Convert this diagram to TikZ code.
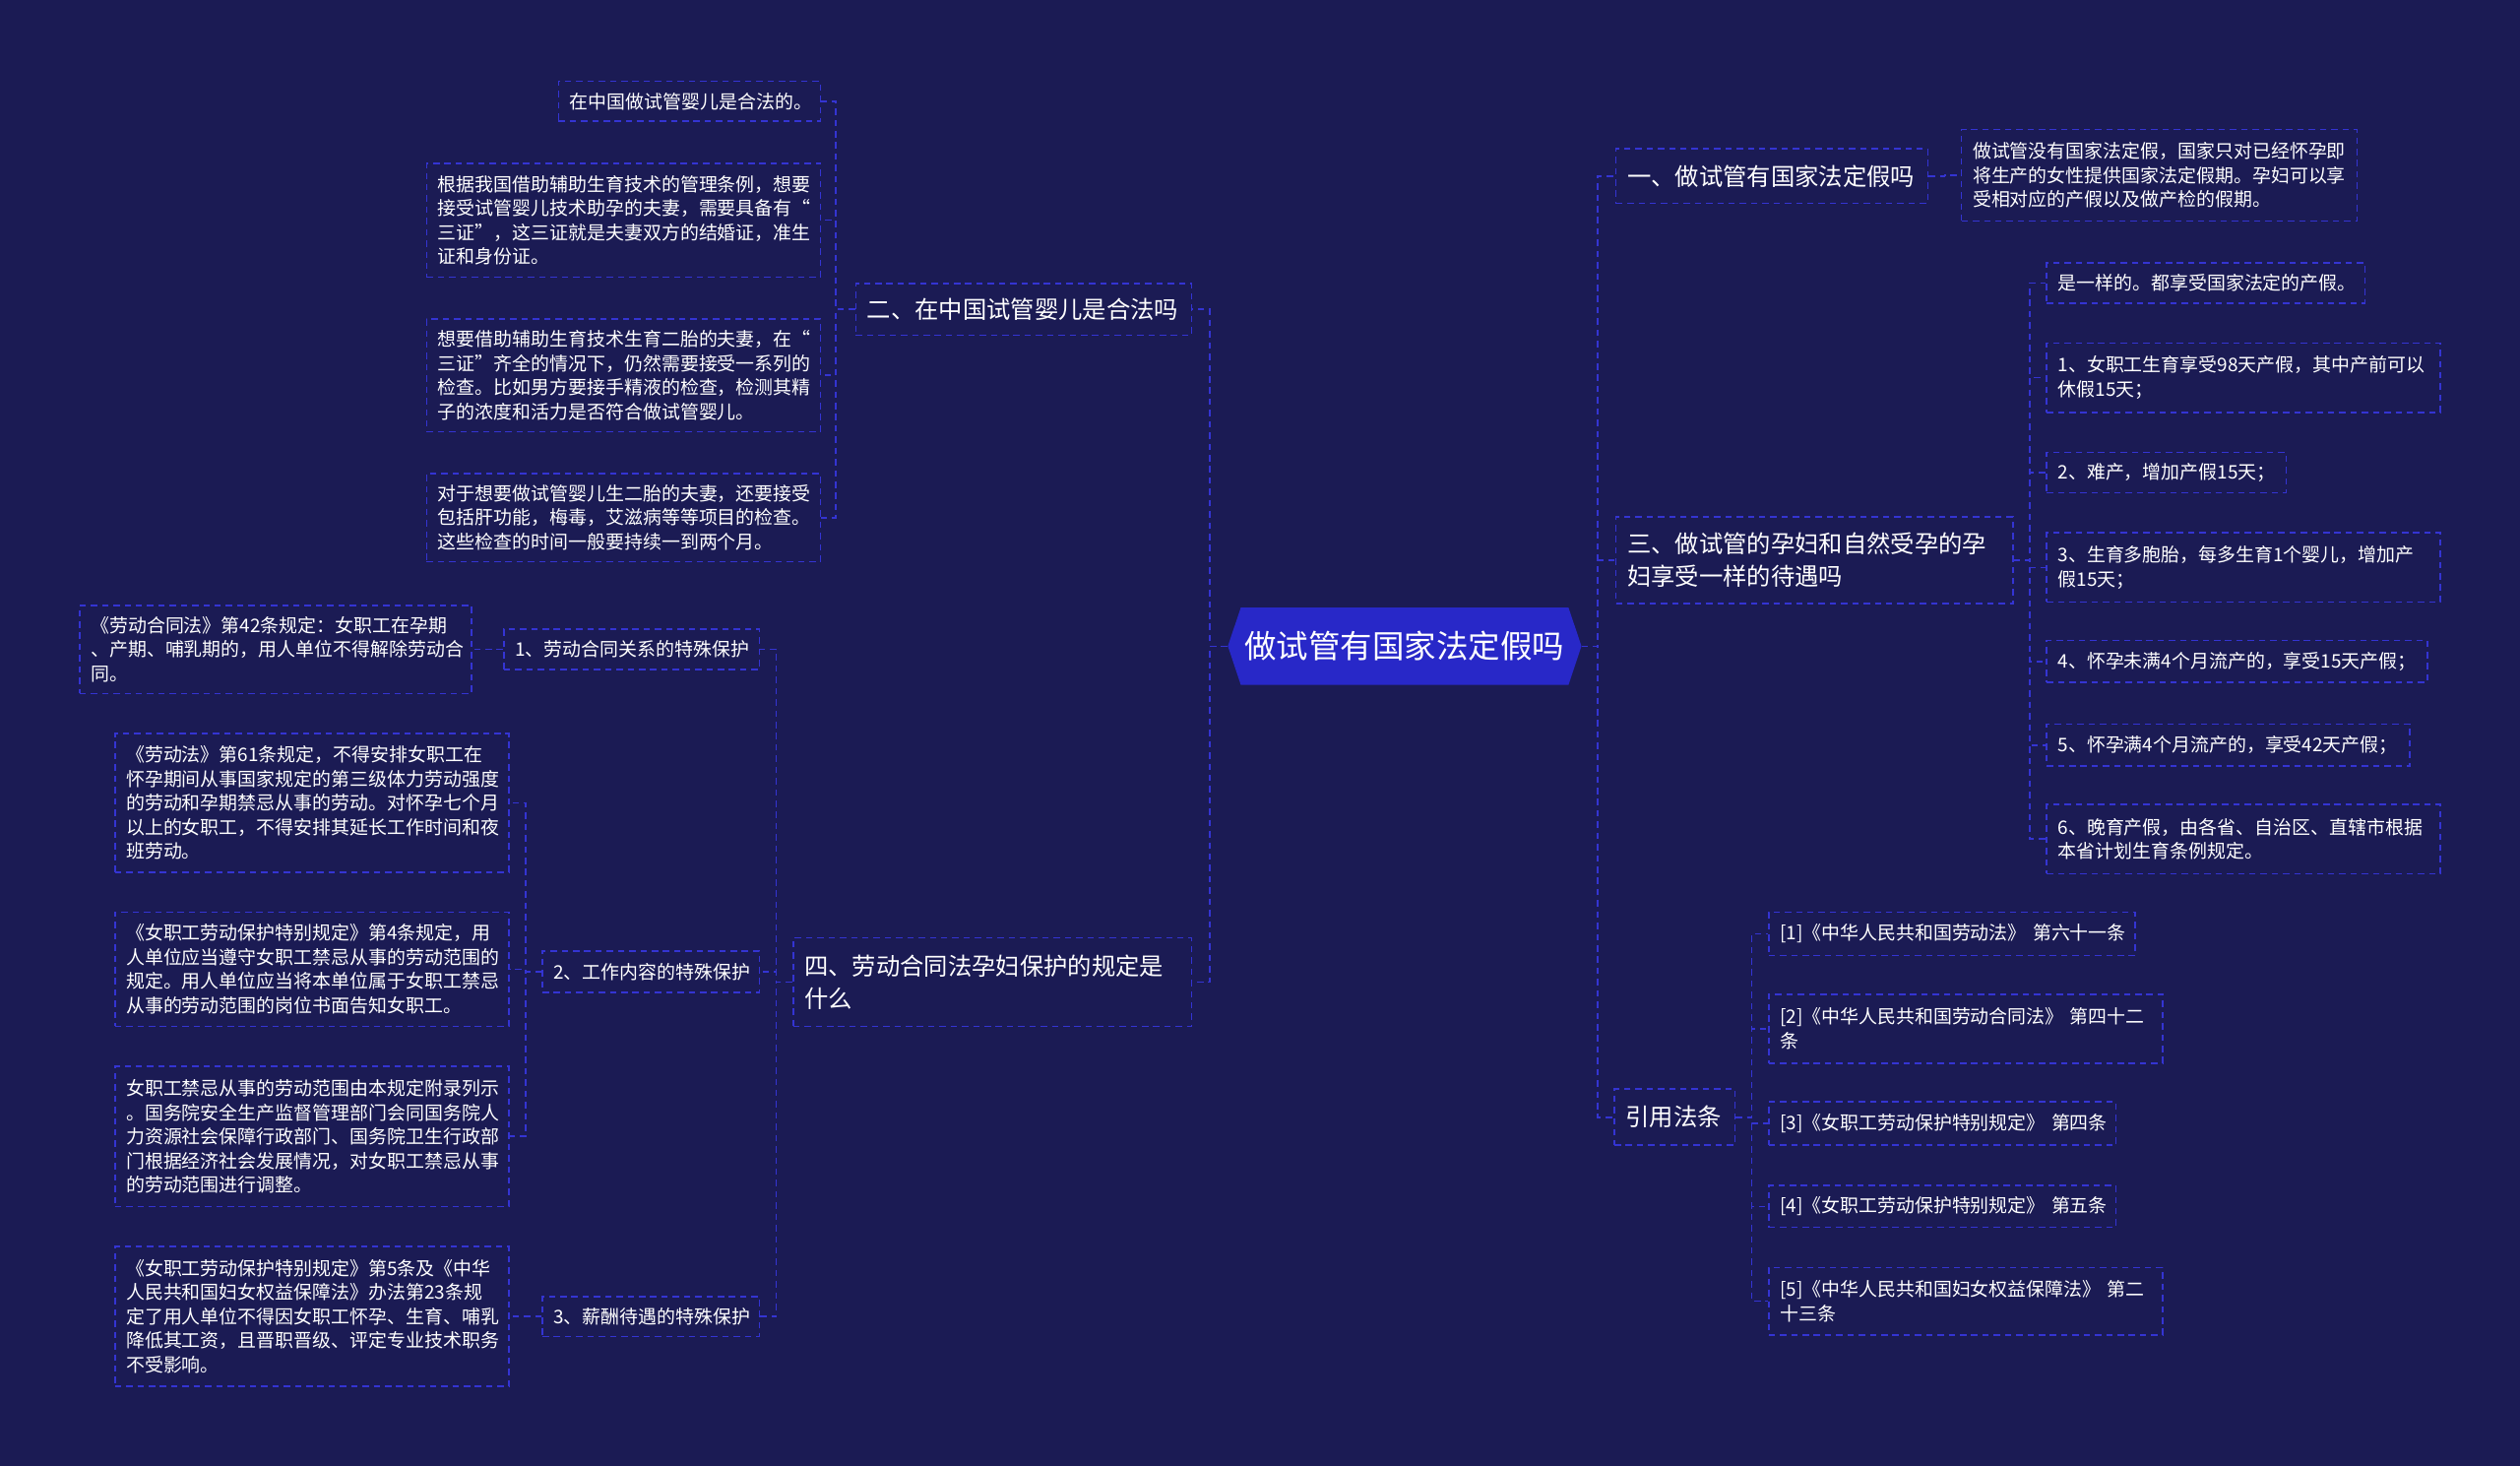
\documentclass[tikz,border=0pt]{standalone}
\usepackage{fontspec}
\setmainfont{Noto Sans CJK SC}
\usetikzlibrary{shapes.symbols}

\definecolor{bgnavy}{RGB}{27,27,84}
\definecolor{lineblue}{RGB}{52,52,210}
\definecolor{rootblue}{RGB}{40,40,200}

\tikzset{
  link/.style={draw=lineblue, line width=1pt, dash pattern=on 4pt off 3pt},
  topic/.style={draw=lineblue, line width=1pt, dash pattern=on 4pt off 3pt,
    text=white, align=left, inner xsep=7pt, inner ysep=0pt,
    font=\fontsize{14.9}{20}\selectfont},
  leaf/.style={topic, font=\fontsize{11.6}{15}\selectfont},
  root/.style={signal, signal to=west and east, signal pointer angle=143,
    fill=rootblue, text=white, font=\fontsize{19.9}{24}\selectfont,
    minimum width=220pt, minimum height=48pt, inner sep=0pt}
}

\begin{document}
\begin{tikzpicture}[x=1pt, y=-1pt]
  % Background
  \fill[bgnavy] (0,0) rectangle (1568,912);
  \useasboundingbox (0,0) rectangle (1568,912);

  % Root
  \node[root] (root) at (874,402) {做试管有国家法定假吗};

  % Right topics
  \node[topic, text width=180pt, minimum height=34pt, anchor=north west] (r1) at (1005,92) {一、做试管有国家法定假吗};
  \node[topic, text width=233pt, minimum height=54pt, anchor=north west] (r3) at (1005,321) {三、做试管的孕妇和自然受孕的孕\\妇享受一样的待遇吗};
  \node[topic, text width=61pt, minimum height=35pt, anchor=north west] (r4) at (1004,677) {引用法条};

  % Right leaves
  \node[leaf, text width=232pt, minimum height=57pt, anchor=north west] (r1a) at (1220,80) {做试管没有国家法定假，国家只对已经怀孕即\\将生产的女性提供国家法定假期。孕妇可以享\\受相对应的产假以及做产检的假期。};
  \node[leaf, text width=184pt, minimum height=25pt, anchor=north west] (r3a) at (1273,163) {是一样的。都享受国家法定的产假。};
  \node[leaf, text width=231pt, minimum height=43pt, anchor=north west] (r3b) at (1273,213) {1、女职工生育享受98天产假，其中产前可以\\休假15天；};
  \node[leaf, text width=135pt, minimum height=25pt, anchor=north west] (r3c) at (1273,281) {2、难产，增加产假15天；};
  \node[leaf, text width=231pt, minimum height=43pt, anchor=north west] (r3d) at (1273,331) {3、生育多胞胎，每多生育1个婴儿，增加产\\假15天；};
  \node[leaf, text width=223pt, minimum height=26pt, anchor=north west] (r3e) at (1273,398) {4、怀孕未满4个月流产的，享受15天产假；};
  \node[leaf, text width=212pt, minimum height=26pt, anchor=north west] (r3f) at (1273,450) {5、怀孕满4个月流产的，享受42天产假；};
  \node[leaf, text width=231pt, minimum height=43pt, anchor=north west] (r3g) at (1273,500) {6、晚育产假，由各省、自治区、直辖市根据\\本省计划生育条例规定。};
  \node[leaf, text width=214pt, minimum height=27pt, anchor=north west] (r4a) at (1100,567) {[1]《中华人民共和国劳动法》~第六十一条};
  \node[leaf, text width=231pt, minimum height=43pt, anchor=north west] (r4b) at (1100,618) {[2]《中华人民共和国劳动合同法》~第四十二\\条};
  \node[leaf, text width=202pt, minimum height=27pt, anchor=north west] (r4c) at (1100,685) {[3]《女职工劳动保护特别规定》~第四条};
  \node[leaf, text width=202pt, minimum height=26pt, anchor=north west] (r4d) at (1100,737) {[4]《女职工劳动保护特别规定》~第五条};
  \node[leaf, text width=231pt, minimum height=42pt, anchor=north west] (r4e) at (1100,788) {[5]《中华人民共和国妇女权益保障法》~第二\\十三条};

  % Left topics
  \node[topic, text width=195pt, minimum height=32pt, anchor=north east] (l2) at (742,176) {二、在中国试管婴儿是合法吗};
  \node[topic, text width=234pt, minimum height=55pt, anchor=north east] (l4) at (742,583) {四、劳动合同法孕妇保护的规定是\\什么};

  % Left leaves
  \node[leaf, text width=149pt, minimum height=25pt, anchor=north east] (l2a) at (511,50) {在中国做试管婴儿是合法的。};
  \node[leaf, text width=231pt, minimum height=71pt, anchor=north east] (l2b) at (511,101) {根据我国借助辅助生育技术的管理条例，想要\\接受试管婴儿技术助孕的夫妻，需要具备有“\\三证”，这三证就是夫妻双方的结婚证，准生\\证和身份证。};
  \node[leaf, text width=231pt, minimum height=70pt, anchor=north east] (l2c) at (511,198) {想要借助辅助生育技术生育二胎的夫妻，在“\\三证”齐全的情况下，仍然需要接受一系列的\\检查。比如男方要接手精液的检查，检测其精\\子的浓度和活力是否符合做试管婴儿。};
  \node[leaf, text width=231pt, minimum height=55pt, anchor=north east] (l2d) at (511,294) {对于想要做试管婴儿生二胎的夫妻，还要接受\\包括肝功能，梅毒，艾滋病等等项目的检查。\\这些检查的时间一般要持续一到两个月。};
  \node[leaf, text width=145pt, minimum height=25pt, anchor=north east] (l4a) at (473,391) {1、劳动合同关系的特殊保护};
  \node[leaf, text width=121pt, minimum height=26pt, anchor=north east] (l4b) at (473,591) {2、工作内容的特殊保护};
  \node[leaf, text width=121pt, minimum height=25pt, anchor=north east] (l4c) at (473,806) {3、薪酬待遇的特殊保护};
  \node[leaf, text width=230pt, minimum height=55pt, anchor=north east] (l4a1) at (294,376) {《劳动合同法》第42条规定：女职工在孕期\\、产期、哺乳期的，用人单位不得解除劳动合\\同。};
  \node[leaf, text width=231pt, minimum height=86pt, anchor=north east] (l4b1) at (317,456) {《劳动法》第61条规定，不得安排女职工在\\怀孕期间从事国家规定的第三级体力劳动强度\\的劳动和孕期禁忌从事的劳动。对怀孕七个月\\以上的女职工，不得安排其延长工作时间和夜\\班劳动。};
  \node[leaf, text width=231pt, minimum height=71pt, anchor=north east] (l4b2) at (317,567) {《女职工劳动保护特别规定》第4条规定，用\\人单位应当遵守女职工禁忌从事的劳动范围的\\规定。用人单位应当将本单位属于女职工禁忌\\从事的劳动范围的岗位书面告知女职工。};
  \node[leaf, text width=231pt, minimum height=87pt, anchor=north east] (l4b3) at (317,663) {女职工禁忌从事的劳动范围由本规定附录列示\\。国务院安全生产监督管理部门会同国务院人\\力资源社会保障行政部门、国务院卫生行政部\\门根据经济社会发展情况，对女职工禁忌从事\\的劳动范围进行调整。};
  \node[leaf, text width=231pt, minimum height=87pt, anchor=north east] (l4c1) at (317,775) {《女职工劳动保护特别规定》第5条及《中华\\人民共和国妇女权益保障法》办法第23条规\\定了用人单位不得因女职工怀孕、生育、哺乳\\降低其工资，且晋职晋级、评定专业技术职务\\不受影响。};

  % Connectors right
  \foreach \t in {r1,r3,r4}
    \draw[link] (root.east) -- ++(10,0) |- (\t.west);
  \draw[link] (r1.east) -- ++(10,0) |- (r1a.west);
  \foreach \t in {r3a,r3b,r3c,r3d,r3e,r3f,r3g}
    \draw[link] (r3.east) -- ++(10,0) |- (\t.west);
  \foreach \t in {r4a,r4b,r4c,r4d,r4e}
    \draw[link] (r4.east) -- ++(10,0) |- (\t.west);

  % Connectors left
  \foreach \t in {l2,l4}
    \draw[link] (root.west) -- ++(-11,0) |- (\t.east);
  \foreach \t in {l2a,l2b,l2c,l2d}
    \draw[link] (l2.west) -- ++(-12,0) |- (\t.east);
  \foreach \t in {l4a,l4b,l4c}
    \draw[link] (l4.west) -- ++(-10,0) |- (\t.east);
  \draw[link] (l4a.west) -- ++(-10,0) |- (l4a1.east);
  \foreach \t in {l4b1,l4b2,l4b3}
    \draw[link] (l4b.west) -- ++(-10,0) |- (\t.east);
  \draw[link] (l4c.west) -- ++(-10,0) |- (l4c1.east);
\end{tikzpicture}
\end{document}
